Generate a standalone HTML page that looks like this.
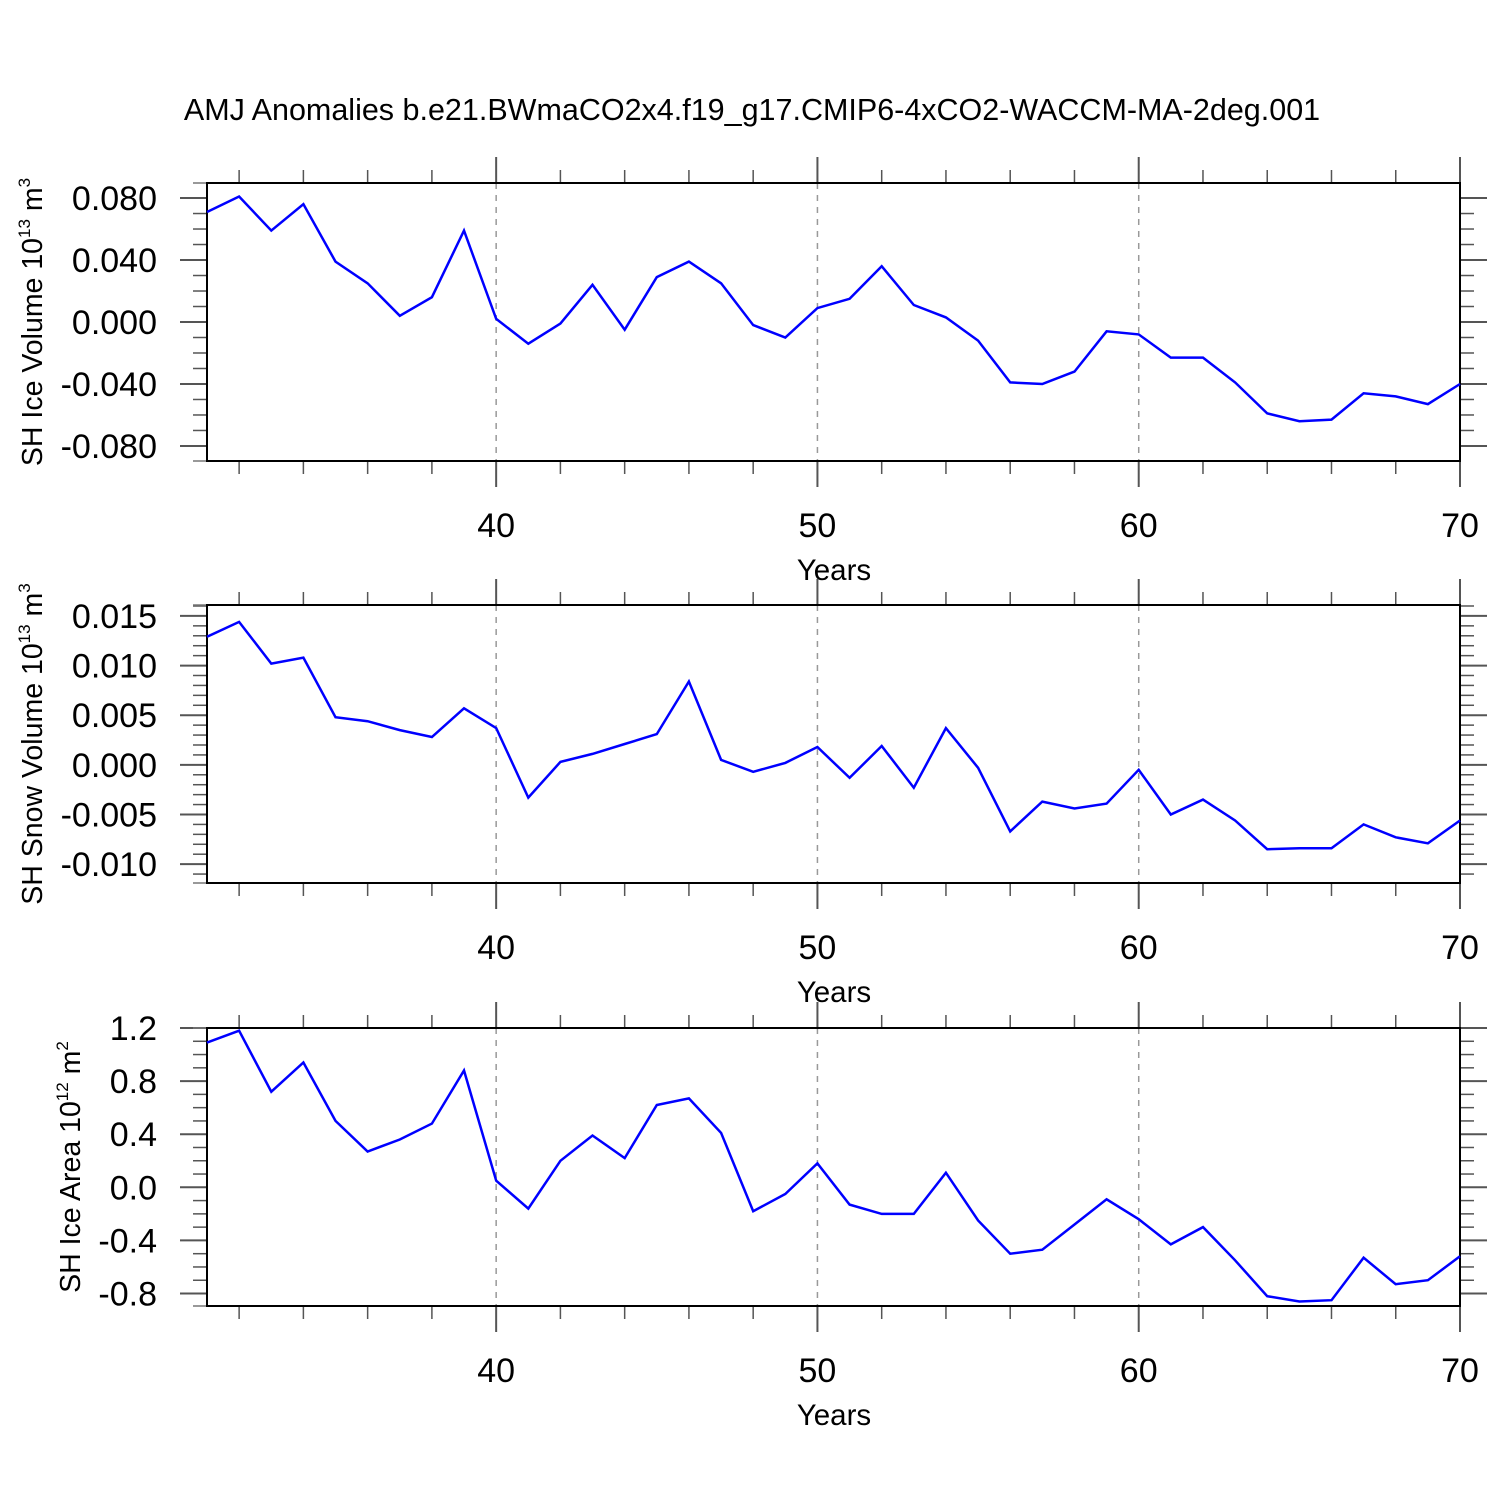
<!DOCTYPE html>
<html><head><meta charset="utf-8"><style>
html,body{margin:0;padding:0;background:#fff;}
svg{display:block;font-family:"Liberation Sans",Arial,sans-serif;}
</style></head><body>
<svg id="chart" width="1500" height="1500" xmlns="http://www.w3.org/2000/svg">
<rect width="1500" height="1500" fill="#fff"/>
<text x="752" y="120" font-size="30.5" text-anchor="middle">AMJ Anomalies b.e21.BWmaCO2x4.f19_g17.CMIP6-4xCO2-WACCM-MA-2deg.001</text>
</svg>
<script>
const years = [31,32,33,34,35,36,37,38,39,40,41,42,43,44,45,46,47,48,49,50,51,52,53,54,55,56,57,58,59,60,61,62,63,64,65,66,67,68,69,70];
const iceVolume = [0.071,0.081,0.059,0.076,0.039,0.025,0.004,0.016,0.059,0.002,-0.014,-0.001,0.024,-0.005,0.029,0.039,0.025,-0.002,-0.010,0.009,0.015,0.036,0.011,0.003,-0.012,-0.039,-0.040,-0.032,-0.006,-0.008,-0.023,-0.023,-0.039,-0.059,-0.064,-0.063,-0.046,-0.048,-0.053,-0.040];
const snowVolume = [0.0129,0.0144,0.0102,0.0108,0.0048,0.0044,0.0035,0.0028,0.0057,0.0037,-0.0033,0.0003,0.0011,0.0021,0.0031,0.0084,0.0005,-0.0007,0.0002,0.0018,-0.0013,0.0019,-0.0023,0.0037,-0.0003,-0.0067,-0.0037,-0.0044,-0.0039,-0.0005,-0.0050,-0.0035,-0.0056,-0.0085,-0.0084,-0.0084,-0.0060,-0.0073,-0.0079,-0.0056];
const iceArea = [1.09,1.18,0.72,0.94,0.50,0.27,0.36,0.48,0.88,0.05,-0.16,0.20,0.39,0.22,0.62,0.67,0.41,-0.18,-0.05,0.18,-0.13,-0.20,-0.20,0.11,-0.25,-0.50,-0.47,-0.28,-0.09,-0.24,-0.43,-0.30,-0.55,-0.82,-0.86,-0.85,-0.53,-0.73,-0.70,-0.52];
const xTickLabels = [40,50,60,70];
const iceVolTicks = ["0.080","0.040","0.000","-0.040","-0.080"];
const snowVolTicks = ["0.015","0.010","0.005","0.000","-0.005","-0.010"];
const iceAreaTicks = ["1.2","0.8","0.4","0.0","-0.4","-0.8"];

const NS="http://www.w3.org/2000/svg";
const svg=document.getElementById('chart');
const X0=207,X1=1460,XMIN=31,XMAX=70;
const xs=v=>X0+(v-XMIN)/(XMAX-XMIN)*(X1-X0);
function el(tag,attrs,parent){const e=document.createElementNS(NS,tag);for(const k in attrs)e.setAttribute(k,attrs[k]);(parent||svg).appendChild(e);return e;}

const panels=[
 {key:'ice-volume',top:183,bot:461,ymin:-0.0897,ymax:0.0897,data:iceVolume,ticks:iceVolTicks,minor:0.01,title:'SH Ice Volume 10',sup:'13',unit:' m',usup:'3',tx:42},
 {key:'snow-volume',top:605,bot:883,ymin:-0.0119,ymax:0.0161,data:snowVolume,ticks:snowVolTicks,minor:0.001,title:'SH Snow Volume 10',sup:'13',unit:' m',usup:'3',tx:42},
 {key:'ice-area',top:1028,bot:1306,ymin:-0.894,ymax:1.2,data:iceArea,ticks:iceAreaTicks,minor:0.1,title:'SH Ice Area 10',sup:'12',unit:' m',usup:'2',tx:80}
];
panels.forEach(p=>{
 const g=el('g',{});
 
 
 const ys=v=>p.bot-(v-p.ymin)/(p.ymax-p.ymin)*(p.bot-p.top);
 [40,50,60].forEach(v=>{const l=el('line',{x1:xs(v),x2:xs(v),y1:p.top,y2:p.bot,stroke:'#999','stroke-width':1.5,'stroke-dasharray':'6,6'},g);
  });
 for(let v=32;v<=70;v+=2){const maj=v%10===0;const len=maj?26:13;
  el('line',{x1:xs(v),x2:xs(v),y1:p.top-len,y2:p.top,stroke:'#555','stroke-width':maj?2:1.5},g);
  el('line',{x1:xs(v),x2:xs(v),y1:p.bot,y2:p.bot+len,stroke:'#555','stroke-width':maj?2:1.5},g);}
 xTickLabels.forEach(v=>{const t=el('text',{x:xs(v),y:p.bot+76,'font-size':34,'text-anchor':'middle'},g);t.textContent=v;
  });
 const xt=el('text',{x:834,y:p.bot+119,'font-size':29.5,'text-anchor':'middle'},g);xt.textContent='Years';
 
 const majVals=p.ticks.map(Number);
 const n0=Math.ceil(p.ymin/p.minor-1e-6),n1=Math.floor(p.ymax/p.minor+1e-6);
 for(let i=n0;i<=n1;i++){const v=i*p.minor;const maj=majVals.some(m=>Math.abs(m-v)<p.minor/10);const len=maj?27:14;const y=ys(v);
  el('line',{x1:X0-len,x2:X0,y1:y,y2:y,stroke:'#555','stroke-width':maj?2:1.5},g);
  el('line',{x1:X1,x2:X1+len,y1:y,y2:y,stroke:'#555','stroke-width':maj?2:1.5},g);}
 el('line',{x1:X0-14,x2:X0,y1:p.top,y2:p.top,stroke:'#777','stroke-width':1.5},g);
 el('line',{x1:X0-14,x2:X0,y1:p.bot,y2:p.bot,stroke:'#777','stroke-width':1.5},g);
 p.ticks.forEach(s=>{const t=el('text',{x:157,y:ys(Number(s))+12,'font-size':34,'text-anchor':'end'},g);t.textContent=s;
  });
 const cy=(p.top+p.bot)/2;
 const yt=el('text',{x:p.tx,y:cy,'font-size':28.5,'text-anchor':'middle',transform:`rotate(-90 ${p.tx} ${cy})`},g);
 
 yt.appendChild(document.createTextNode(p.title));
 const s1=el('tspan',{'font-size':17,dy:-12},yt);s1.textContent=p.sup;
 const s2=el('tspan',{dy:12},yt);s2.textContent=p.unit;
 const s3=el('tspan',{'font-size':17,dy:-12},yt);s3.textContent=p.usup;
 const fr=el('rect',{x:X0,y:p.top,width:X1-X0,height:p.bot-p.top,fill:'none',stroke:'#000','stroke-width':2},g);
 
 const pts=years.map((yr,i)=>xs(yr).toFixed(1)+','+ys(p.data[i]).toFixed(1)).join(' ');
 const pl=el('polyline',{points:pts,fill:'none',stroke:'#0000ff','stroke-width':2.5,'stroke-linejoin':'miter'},g);
 
 
});
</script>
</body></html>
